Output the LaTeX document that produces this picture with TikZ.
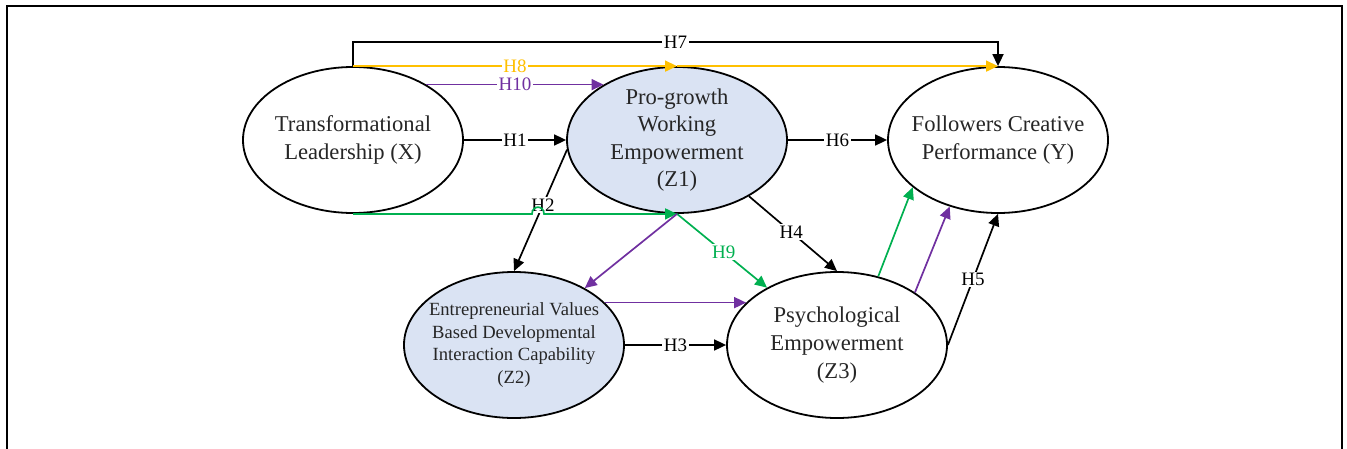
\documentclass[tikz,border=0pt]{standalone}
\usepackage{fontspec}
\setmainfont{Liberation Serif}
\usetikzlibrary{shapes.geometric,arrows.meta}
\definecolor{hyellow}{HTML}{FFC000}
\definecolor{hpurple}{HTML}{7030A0}
\definecolor{hgreen}{HTML}{00B050}
\definecolor{zfill}{HTML}{DAE3F3}
\begin{document}
\begin{tikzpicture}[x=0.5pt,y=-0.5pt,
    ell/.style = {ellipse,draw,line width=0.9pt,minimum width=110pt,minimum height=73pt,inner sep=0pt},
    txt/.style = {align=center,text=black!85,font=\fontsize{11.3}{13.6}\selectfont},
    arrow/.style = {line width=0.85pt,-{Triangle[length=6pt,width=5.5pt]}},
    hlab/.style = {fill=white,inner sep=0.8pt,font=\fontsize{9.5}{10}\selectfont}]
    \useasboundingbox (0,0) rectangle (1347,449);
    \draw[line width=1pt] (7,449) |- (1342,6) -- (1342,449);

    % constructs
    \node[ell] (X) at (353,140) {};
    \node[ell,fill=zfill] (Z1) at (677,140) {};
    \node[ell] (Y) at (998,140) {};
    \node[ell,fill=zfill] (Z2) at (514,345) {};
    \node[ell] (Z3) at (837,345) {};

    \node[txt] (Xt) at (X) {Transformational\\Leadership (X)};
    \node[txt] (Z1t) at (Z1) {Pro-growth\\Working\\Empowerment\\(Z1)};
    \node[txt] (Yt) at (Y) {Followers Creative\\Performance (Y)};
    \node[txt,font=\fontsize{9.3}{11.4}\selectfont] (Z2t) at (Z2)
        {Entrepreneurial Values\\Based Developmental\\Interaction Capability\\(Z2)};
    \node[txt,font=\fontsize{11.3}{14}\selectfont] (Z3t) at (Z3) {Psychological\\Empowerment\\(Z3)};

    % direct paths
    \draw[arrow] (X) -- (Z1) node[hlab,midway] (l1) {H1};
    \draw[arrow] (Z1.185) -- (Z2.north) node[hlab,pos=0.455] (l2) {H2};
    \draw[arrow] (Z2) -- (Z3) node[hlab,midway] (l3) {H3};
    \draw[arrow] (Z1.-38) -- (Z3.north) node[hlab,pos=0.48] (l4) {H4};
    \draw[arrow] (Z3.east) -- (Y.south) node[hlab,midway] (l5) {H5};
    \draw[arrow] (Z1) -- (Y) node[hlab,midway] (l6) {H6};
    \draw[arrow] (X.north) -- ++(0,-24) -| (Y.north) node[hlab,pos=0.25] (l7) {H7};

    % mediated paths
    \draw[arrow,hyellow] (X.north) -- (Z1.north) node[hlab,midway,text=hyellow] (l8) {H8};
    \draw[arrow,hyellow] (Z1.north) -- (Y.north);

    \path (X.south) ++(179,0) coordinate (hopA) ++(0,-9) coordinate (hopAc)
        ++(12,0) coordinate (hopBc) ++(0,9) coordinate (hopB);
    \draw[arrow,hgreen] (X.south) -- (hopA) .. controls (hopAc) and (hopBc) .. (hopB) -- (Z1.south);
    \draw[arrow,hgreen] (Z1.south) -- (Z3) node[hlab,pos=0.52,text=hgreen] (l9) {H9};
    \draw[arrow,hgreen] (Z3.59) -- (Y.209);

    \draw[arrow,hpurple] (X.37) -- (Z1.143) node[hlab,midway,text=hpurple] (l10) {H10};
    \draw[arrow,hpurple] (Z1.south) -- (Z2);
    \draw[arrow,hpurple] (Z2.25) -- (Z3.155);
    \draw[arrow,hpurple] (Z3.34) -- (Y.234);
\end{tikzpicture}
\end{document}
